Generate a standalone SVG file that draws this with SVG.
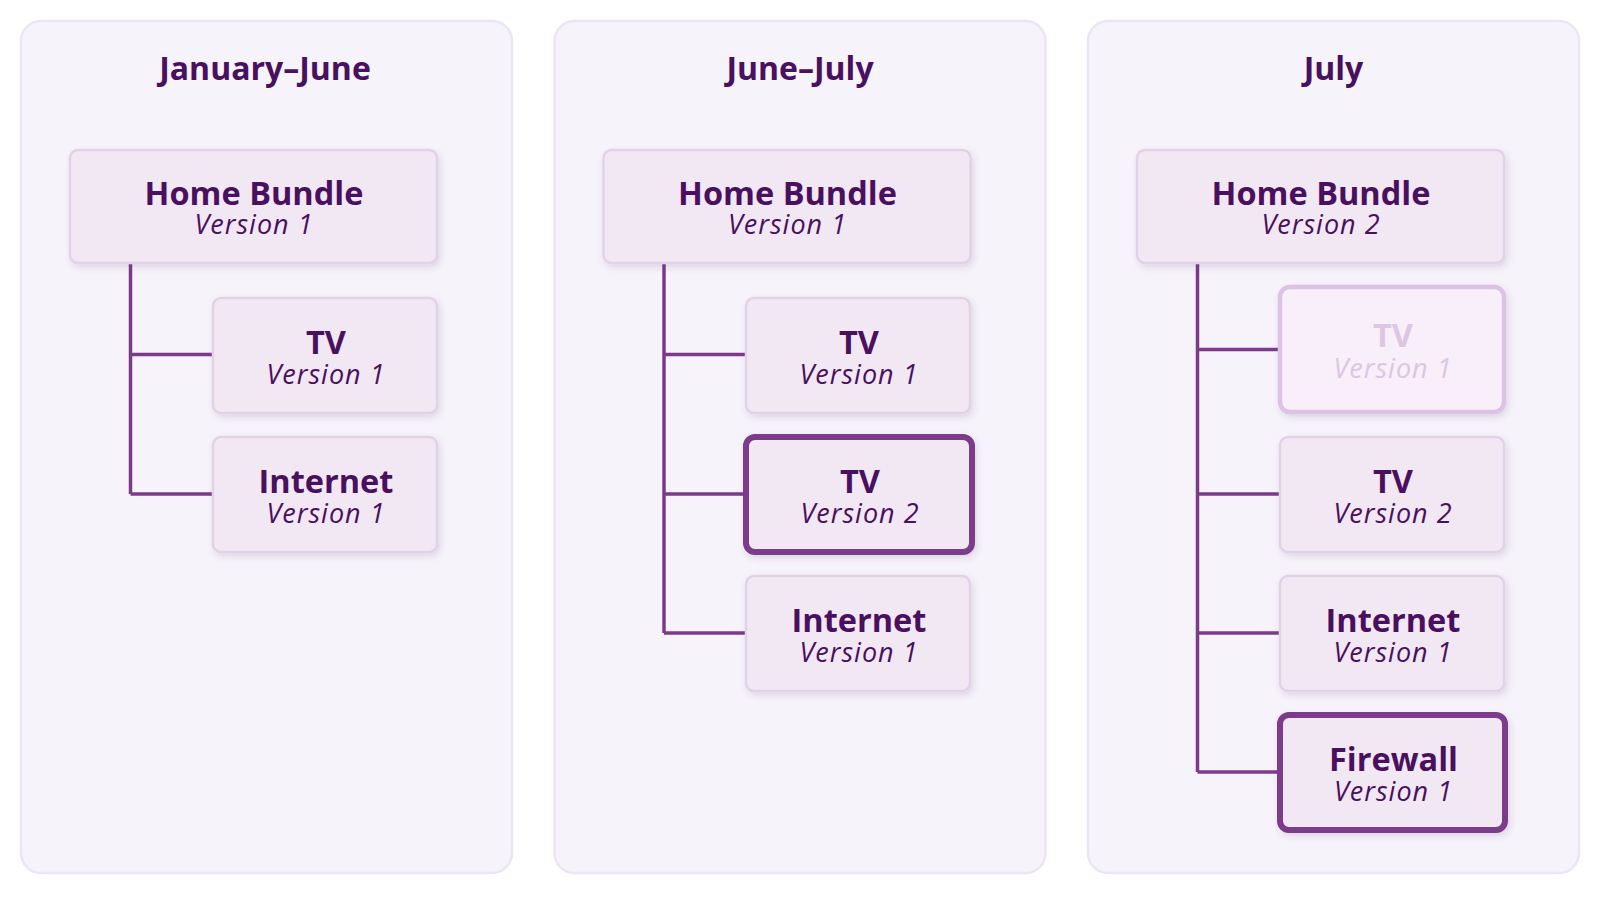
<svg xmlns="http://www.w3.org/2000/svg" width="1600" height="898" viewBox="0 0 1600 898">
  <defs>
    <filter id="sh" x="-10%" y="-10%" width="125%" height="130%">
      <feDropShadow dx="2" dy="3" stdDeviation="3" flood-color="#5a3a6a" flood-opacity="0.16"/>
    </filter>
  </defs>
  <style>
    .panel { fill: #f6f3fa; stroke: #ece5f3; stroke-width: 2.5; }
    .ptitle { font-family: "Open Sans", "Liberation Sans", sans-serif; font-weight: 700; font-size: 32px; fill: #4a1060; text-anchor: middle; }
    .box { fill: #f2e8f4; stroke: #e2d2e8; stroke-width: 2.5; filter: url(#sh); }
    .hl { fill: #f2e8f4; stroke: #7d3a8b; stroke-width: 6; filter: url(#sh); }
    .faded { fill: #f8effb; stroke: #dcc3e3; stroke-width: 4.5; filter: url(#sh); }
    .t1 { font-family: "Open Sans", "Liberation Sans", sans-serif; font-weight: 700; font-size: 32.5px; fill: #4a1060; text-anchor: middle; }
    .t2 { font-family: "Open Sans", "Liberation Sans", sans-serif; font-style: italic; font-weight: 400; font-size: 27px; letter-spacing: 1px; fill: #4a1060; text-anchor: middle; }
    .ft { fill: #dcc6e2; }
    .conn { fill: none; stroke: #7d3a8b; stroke-width: 3.5; }
  </style>

  <rect width="1600" height="898" fill="#ffffff"/>

  <g id="panel-jan-june">
    <rect class="panel" x="21" y="21" width="491" height="852" rx="20"/>
    <text class="ptitle" x="265" y="80">January–June</text>
  </g>
  <g id="panel-june-july">
    <rect class="panel" x="554.5" y="21" width="491" height="852" rx="20"/>
    <text class="ptitle" x="800" y="80">June–July</text>
  </g>
  <g id="panel-july">
    <rect class="panel" x="1088" y="21" width="491" height="852" rx="20"/>
    <text class="ptitle" x="1333.5" y="80">July</text>
  </g>

  <g id="connectors">
    <path class="conn" d="M130.5 263 V494 M130.5 354.5 H213 M130.5 494 H213"/>
    <path class="conn" d="M664 263 V633 M664 354.5 H746 M664 494 H746 M664 633 H746"/>
    <path class="conn" d="M1197.5 263 V772 M1197.5 349.5 H1280 M1197.5 494 H1280 M1197.5 633 H1280 M1197.5 772 H1280"/>
  </g>

  <!-- Panel 1 -->
  <g id="p1-home-bundle">
    <rect class="box" x="70" y="150" width="367" height="113" rx="8"/>
    <text class="t1" x="254" y="205">Home Bundle</text>
    <text class="t2" x="254" y="234">Version 1</text>
  </g>
  <g id="p1-tv-v1">
    <rect class="box" x="213" y="298" width="224" height="115" rx="8"/>
    <text class="t1" x="326" y="354">TV</text>
    <text class="t2" x="326" y="384">Version 1</text>
  </g>
  <g id="p1-internet-v1">
    <rect class="box" x="213" y="437" width="224" height="115" rx="8"/>
    <text class="t1" x="326" y="493">Internet</text>
    <text class="t2" x="326" y="523">Version 1</text>
  </g>

  <!-- Panel 2 -->
  <g id="p2-home-bundle">
    <rect class="box" x="603.5" y="150" width="367" height="113" rx="8"/>
    <text class="t1" x="787.5" y="205">Home Bundle</text>
    <text class="t2" x="787.5" y="234">Version 1</text>
  </g>
  <g id="p2-tv-v1">
    <rect class="box" x="746" y="298" width="224" height="115" rx="8"/>
    <text class="t1" x="859" y="354">TV</text>
    <text class="t2" x="859" y="384">Version 1</text>
  </g>
  <g id="p2-tv-v2">
    <rect class="hl" x="746" y="437" width="226" height="115" rx="9"/>
    <text class="t1" x="860" y="493">TV</text>
    <text class="t2" x="860" y="523">Version 2</text>
  </g>
  <g id="p2-internet-v1">
    <rect class="box" x="746" y="576" width="224" height="115" rx="8"/>
    <text class="t1" x="859" y="632">Internet</text>
    <text class="t2" x="859" y="662">Version 1</text>
  </g>

  <!-- Panel 3 -->
  <g id="p3-home-bundle">
    <rect class="box" x="1137" y="150" width="367" height="113" rx="8"/>
    <text class="t1" x="1321" y="205">Home Bundle</text>
    <text class="t2" x="1321" y="234">Version 2</text>
  </g>
  <g id="p3-tv-v1-retired">
    <rect class="faded" x="1280" y="287" width="224" height="125" rx="10"/>
    <text class="t1 ft" x="1393" y="347">TV</text>
    <text class="t2 ft" x="1393" y="378">Version 1</text>
  </g>
  <g id="p3-tv-v2">
    <rect class="box" x="1280" y="437" width="224" height="115" rx="8"/>
    <text class="t1" x="1393" y="493">TV</text>
    <text class="t2" x="1393" y="523">Version 2</text>
  </g>
  <g id="p3-internet-v1">
    <rect class="box" x="1280" y="576" width="224" height="115" rx="8"/>
    <text class="t1" x="1393" y="632">Internet</text>
    <text class="t2" x="1393" y="662">Version 1</text>
  </g>
  <g id="p3-firewall-v1">
    <rect class="hl" x="1280" y="715" width="225" height="115" rx="9"/>
    <text class="t1" x="1393.5" y="771">Firewall</text>
    <text class="t2" x="1393.5" y="801">Version 1</text>
  </g>
</svg>
